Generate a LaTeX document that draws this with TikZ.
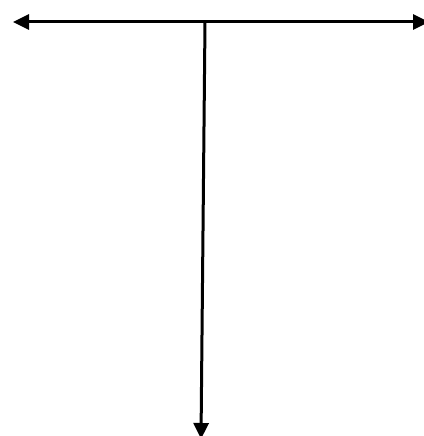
\documentclass[tikz,border=0pt]{standalone}
\usetikzlibrary{arrows.meta}
\begin{document}
\begin{tikzpicture}[x=1pt,y=-1pt,
  axis/.style={line width=3pt,-{Triangle[length=16pt,width=15pt]}}]
\useasboundingbox (0,0) rectangle (423,436);
\fill[white] (0,0) rectangle (423,436);
\coordinate (L) at (13,22);
\coordinate (R) at (429,22);
\coordinate (T) at (205,22);
\coordinate (B) at (201,439);
\draw[line width=3pt,{Triangle[length=16pt,width=15pt]}-{Triangle[length=16pt,width=15pt]}] (L) -- (R);
\draw[axis] (T) -- (B);
\end{tikzpicture}
\end{document}
